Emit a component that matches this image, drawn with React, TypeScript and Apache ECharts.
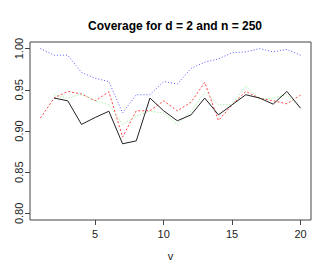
import React, { useEffect, useRef } from "react";
import * as echarts from "echarts";

const vValues = [1, 2, 3, 4, 5, 6, 7, 8, 9, 10, 11, 12, 13, 14, 15, 16, 17, 18, 19, 20];
const blueSeries = [1.0, 0.992, 0.992, 0.971, 0.964, 0.96, 0.922, 0.944, 0.944, 0.96, 0.957, 0.976, 0.9835, 0.9875, 0.995, 0.996, 1.0, 0.996, 0.999, 0.992];
const redSeries = [0.9156, 0.94, 0.948, 0.945, 0.9366, 0.9475, 0.8926, 0.9245, 0.9245, 0.9366, 0.9245, 0.935, 0.959, 0.9127, 0.9318, 0.948, 0.94, 0.9366, 0.933, 0.9435];
// green and black start at v = 2
const greenSeries = [null, 0.944, 0.94, 0.945, 0.9366, 0.9318, 0.908, 0.918, 0.924, 0.9217, 0.908, 0.924, 0.947, 0.9318, 0.9318, 0.9548, 0.9387, 0.94, 0.944, 0.9277];
const blackSeries = [null, 0.94, 0.9366, 0.908, 0.9164, 0.924, 0.8845, 0.888, 0.94, 0.9245, 0.9124, 0.9196, 0.94, 0.9196, 0.9318, 0.944, 0.94, 0.9326, 0.948, 0.9277];
const xTicks = [5, 10, 15, 20];
const yTicks = [0.8, 0.85, 0.9, 0.95, 1.0];

const FONT = "'Liberation Sans Narrow', 'Liberation Sans', Arial, sans-serif";

function pairs(vals: (number | null)[]) {
  const out: [number, number][] = [];
  vals.forEach((y, i) => {
    if (y !== null) out.push([vValues[i], y]);
  });
  return out;
}

export default function App() {
  const ref = useRef<HTMLDivElement>(null);
  useEffect(() => {
    if (!ref.current) return;
    const chart = echarts.init(ref.current, undefined, { renderer: "svg" });
    chart.setOption({
      animation: false,
      backgroundColor: "#ffffff",
      title: {
        text: "Coverage for d = 2 and n = 250",
        left: 170,
        textAlign: "center",
        top: 15,
        textStyle: { fontFamily: FONT, fontSize: 12, fontWeight: "bold", color: "#000" },
      },
      grid: {
        left: 30,
        right: 16,
        top: 42,
        bottom: 53,
        show: true,
        borderColor: "#444",
        borderWidth: 1,
        backgroundColor: "transparent",
      },
      xAxis: {
        type: "value",
        min: 0.24,
        max: 20.76,
        name: "v",
        nameLocation: "middle",
        nameGap: 30,
        nameTextStyle: { fontFamily: FONT, fontSize: 11, color: "#222" },
        axisLine: { show: false },
        splitLine: { show: false },
        axisTick: { show: true, length: 5, customValues: xTicks, lineStyle: { color: "#444" } },
        axisLabel: {
          customValues: xTicks,
          fontFamily: FONT,
          fontSize: 11,
          color: "#222",
          margin: 8,
        },
      },
      yAxis: {
        type: "value",
        min: 0.792,
        max: 1.008,
        axisLine: { show: false },
        splitLine: { show: false },
        axisTick: { show: true, length: 5, customValues: yTicks, lineStyle: { color: "#444" } },
        axisLabel: {
          customValues: yTicks,
          rotate: 90,
          fontFamily: FONT,
          fontSize: 11,
          color: "#222",
          margin: 6,
          formatter: (v: number) => v.toFixed(2),
        },
      },
      series: [
        {
          type: "line",
          data: pairs(blueSeries),
          symbol: "none",
          lineStyle: { color: "#5a5aff", width: 1, type: [1, 2] },
        },
        {
          type: "line",
          data: pairs(redSeries),
          symbol: "none",
          lineStyle: { color: "#ff4444", width: 1, type: [2, 2] },
        },
        {
          type: "line",
          data: pairs(greenSeries),
          symbol: "none",
          lineStyle: { color: "#88ee88", width: 1, type: [1, 2] },
        },
        {
          type: "line",
          data: pairs(blackSeries),
          symbol: "none",
          lineStyle: { color: "#222222", width: 1 },
        },
      ],
    });
    return () => chart.dispose();
  }, []);
  return <div ref={ref} style={{ width: 327, height: 273, position: "absolute", left: 0, top: 0 }} />;
}
